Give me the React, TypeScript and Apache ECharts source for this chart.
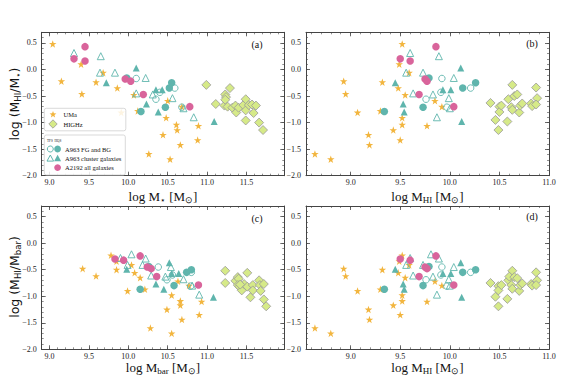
import React, { useEffect, useRef } from 'react';
import * as echarts from 'echarts';

// ---------- tick labels ----------
const xTicksStar = [9.0, 9.5, 10.0, 10.5, 11.0, 11.5];
const xTicksHI = [9.0, 9.5, 10.0, 10.5, 11.0];
const yTicks = [-2.0, -1.5, -1.0, -0.5, 0.0, 0.5];

// ---------- UMa (stars) ----------
const umaMstar = [9.04, 9.15, 9.40, 9.41, 9.59, 9.68, 9.86, 9.91, 10.07, 10.12, 10.26, 10.44, 10.48, 10.50, 10.53, 10.61, 10.62, 10.66, 10.68, 10.89, 10.88];
const umaFstar = [0.48, -0.22, 0.10, -0.46, -0.24, -0.06, -0.35, -0.81, -0.48, -0.78, -1.59, -1.23, -0.91, -0.59, -1.69, -1.04, -1.14, -1.42, -0.70, -1.06, -1.33];
const umaMhi = [9.52, 8.93, 9.49, 8.95, 9.32, 9.59, 9.48, 9.07, 9.55, 9.30, 8.64, 9.18, 9.52, 9.85, 8.80, 9.52, 9.43, 9.19, 9.92, 9.77, 9.50];
const umaMbar = [9.78, 9.42, 9.85, 9.59, 9.85, 10.04, 10.08, 9.99, 10.15, 10.21, 10.28, 10.49, 10.55, 10.63, 10.55, 10.66, 10.66, 10.68, 10.77, 10.93, 10.90];
const umaFbar = [-0.23, -0.48, -0.34, -0.62, -0.50, -0.41, -0.56, -0.90, -0.65, -0.87, -1.60, -1.25, -0.98, -0.72, -1.70, -1.09, -1.17, -1.44, -0.80, -1.10, -1.35];

// ---------- HIGHz (diamonds), read per panel ----------
const hzA = [[10.99, -0.29], [11.11, -0.65], [11.22, -0.68], [11.23, -0.47], [11.24, -0.52], [11.23, -0.57], [11.29, -0.35], [11.26, -0.70], [11.32, -0.72], [11.36, -0.68], [11.37, -0.81], [11.40, -0.72], [11.46, -0.67], [11.49, -0.56], [11.49, -0.77], [11.49, -0.96], [11.53, -0.67], [11.57, -0.66], [11.59, -0.82], [11.62, -0.68], [11.66, -1.00], [11.71, -1.14]];
const hzB = [[10.41, -0.63], [10.46, -0.95], [10.49, -1.14], [10.50, -0.70], [10.50, -0.80], [10.52, -0.68], [10.58, -0.98], [10.59, -0.56], [10.63, -0.29], [10.62, -0.71], [10.63, -0.76], [10.65, -0.50], [10.68, -0.47], [10.70, -0.81], [10.71, -0.68], [10.73, -0.64], [10.82, -0.64], [10.83, -0.69], [10.87, -0.34], [10.88, -0.54], [10.87, -0.66]];
const hzC = [[11.23, -0.52], [11.23, -0.75], [11.36, -0.71], [11.39, -0.64], [11.40, -0.67], [11.39, -0.79], [11.41, -0.82], [11.44, -0.89], [11.47, -0.77], [11.51, -0.56], [11.51, -0.82], [11.55, -1.02], [11.58, -0.79], [11.58, -0.89], [11.66, -0.70], [11.67, -0.79], [11.68, -0.90], [11.72, -0.77], [11.72, -1.06], [11.75, -1.19], [11.42, -0.78]];
const hzD = [[10.41, -0.75], [10.46, -1.01], [10.49, -1.19], [10.49, -0.81], [10.49, -0.89], [10.52, -0.79], [10.58, -1.05], [10.59, -0.70], [10.63, -0.52], [10.60, -0.63], [10.62, -0.79], [10.63, -0.86], [10.65, -0.64], [10.68, -0.66], [10.70, -0.90], [10.71, -0.79], [10.73, -0.76], [10.82, -0.77], [10.83, -0.80], [10.87, -0.55], [10.88, -0.70], [10.87, -0.79]];

// ---------- A963 FG and BG, TFS (open circles) ----------
const fgtMstar = [10.10, 10.35, 10.40, 10.59, 10.68];
const fgtFstar = [-0.17, -0.56, -0.43, -0.35, -0.71];
const fgtMhi = [9.92, 9.76, 9.91, 10.21, 9.97];
const fgtMbar = [10.38, 10.49, 10.56, 10.80, 10.79];
const fgtFbar = [-0.45, -0.69, -0.60, -0.55, -0.81];

// ---------- A963 FG and BG, HQS (filled circles) ----------
const fghMstar = [9.98, 10.16, 10.47, 10.52, 10.55];
const fghFstar = [-0.16, -0.79, -0.71, -0.35, -0.25];
const fghMhi = [9.79, 9.34, 9.73, 10.13, 10.26];
const fghMbar = [10.26, 10.15, 10.58, 10.74, 10.80];
const fghFbar = [-0.44, -0.87, -0.80, -0.55, -0.50];

// ---------- A963 cluster, TFS (open triangles) ----------
const cltMstar = [9.12, 9.31, 9.65, 9.64, 9.83, 10.10, 10.22, 10.31, 10.56, 10.70, 10.83];
const cltFstar = [0.72, 0.31, 0.25, -0.06, -0.06, -0.45, -0.16, -0.47, -0.54, -0.73, -0.90];
const cltMhi = [9.81, 9.60, 9.89, 9.56, 9.73, 9.63, 10.04, 9.83, 9.99, 10.00, 9.87];
const cltMbar = [10.04, 9.90, 10.22, 9.99, 10.18, 10.29, 10.54, 10.47, 10.70, 10.81, 10.90];
const cltFbar = [-0.21, -0.28, -0.29, -0.41, -0.41, -0.61, -0.45, -0.63, -0.68, -0.80, -0.97];

// ---------- A963 cluster, HQS (filled triangles) ----------
const clhMstar = [9.72, 10.10, 10.23, 10.35, 10.38, 10.43, 11.09];
const clhFstar = [-0.25, 0.03, -0.65, -0.38, -0.80, -0.38, -0.98];
const clhMhi = [9.45, 10.11, 9.53, 9.93, 9.54, 10.01, 10.12];
const clhMbar = [9.98, 10.52, 10.35, 10.55, 10.45, 10.64, 11.08];
const clhFbar = [-0.49, -0.37, -0.77, -0.57, -0.87, -0.57, -1.02];

// ---------- A2192 (pink circles) ----------
const a2Mstar = [9.31, 9.45, 9.45, 9.96, 10.03, 10.19, 10.78];
const a2Fstar = [0.20, 0.43, 0.16, -0.18, -0.22, -0.47, -0.70];
const a2Mhi = [9.50, 9.86, 9.60, 9.75, 9.77, 9.69, 10.04];
const a2Mbar = [9.83, 10.15, 9.94, 10.24, 10.29, 10.36, 10.89];
const a2Fbar = [-0.30, -0.24, -0.32, -0.45, -0.48, -0.63, -0.79];

// ---------- styles ----------
const GOLD = '#f2b53e';
const TEAL = '#5fb5ad';
const PINK = '#d9649b';
const HZFILL = '#d6ea88';
const SERIF = 'Liberation Serif';
const AXC = '#444';
const STAR = 'path://M50,0 L61.8,34.5 L97.6,34.5 L68.5,55.9 L79.4,90.5 L50,69.1 L20.6,90.5 L31.5,55.9 L2.4,34.5 L38.2,34.5 Z';

const zip = (xs: number[], ys: number[]) => xs.map((x, i) => [x, ys[i]]);
const fmt = (v: number) => (v < -1e-9 ? '\u2212' : '') + Math.abs(v).toFixed(1);
const minorList = (lo: number, hi: number) => {
  const out: number[] = [];
  for (let k = Math.ceil(lo * 10 - 1e-6); k <= Math.floor(hi * 10 + 1e-6); k++) out.push(k / 10);
  return out;
};

type Grp = { ms: number[]; fs: number[]; mhi: number[]; mb: number[]; fb: number[] };
const panelData = (g: Grp, p: number) => {
  if (p === 0) return zip(g.ms, g.fs);
  if (p === 1) return zip(g.mhi, g.fs);
  if (p === 2) return zip(g.mb, g.fb);
  return zip(g.mhi, g.fb);
};

function buildOption() {
  const rects = [
    { left: 41.7, top: 32.3, width: 242.6, height: 143.4 },
    { left: 306, top: 32.3, width: 243, height: 143.4 },
    { left: 41.7, top: 206, width: 242.6, height: 143.3 },
    { left: 306, top: 206, width: 243, height: 143.3 },
  ];
  const xr = [[8.9, 11.98], [8.55, 11.0], [8.9, 11.98], [8.55, 11.0]];
  const xt = [xTicksStar, xTicksHI, xTicksStar, xTicksHI];
  const yr = [-2.0, 0.7];

  const grid: any[] = [...rects, ...rects].map((r) => ({ ...r, containLabel: false }));
  const xAxis: any[] = [];
  const yAxis: any[] = [];

  for (let p = 0; p < 4; p++) {
    for (const pos of ['bottom', 'top']) {
      xAxis.push({
        type: 'value', gridIndex: p, position: pos, min: xr[p][0], max: xr[p][1],
        axisLine: { show: true, onZero: false, lineStyle: { color: AXC, width: 1 } },
        axisTick: { show: true, inside: true, length: 4, customValues: xt[p], lineStyle: { color: AXC, width: 0.8 } },
        axisLabel: { show: pos === 'bottom', customValues: xt[p], formatter: fmt, fontFamily: SERIF, fontSize: 8, color: '#222', margin: 3 },
        splitLine: { show: false },
      });
    }
    for (const pos of ['left', 'right']) {
      yAxis.push({
        type: 'value', gridIndex: p, position: pos, min: yr[0], max: yr[1],
        axisLine: { show: true, onZero: false, lineStyle: { color: AXC, width: 1 } },
        axisTick: { show: true, inside: true, length: 4, customValues: yTicks, lineStyle: { color: AXC, width: 0.8 } },
        axisLabel: { show: pos === 'left', customValues: yTicks, formatter: fmt, fontFamily: SERIF, fontSize: 8, color: '#222', margin: 5 },
        splitLine: { show: false },
      });
    }
  }
  for (let p = 0; p < 4; p++) {
    for (const pos of ['bottom', 'top']) {
      xAxis.push({
        type: 'value', gridIndex: p + 4, position: pos, min: xr[p][0], max: xr[p][1],
        axisLine: { show: false, onZero: false },
        axisTick: { show: true, inside: true, length: 2, customValues: minorList(xr[p][0], xr[p][1]), lineStyle: { color: AXC, width: 0.6 } },
        axisLabel: { show: false },
        splitLine: { show: false },
      });
    }
    for (const pos of ['left', 'right']) {
      yAxis.push({
        type: 'value', gridIndex: p + 4, position: pos, min: yr[0], max: yr[1],
        axisLine: { show: false, onZero: false },
        axisTick: { show: true, inside: true, length: 2, customValues: minorList(yr[0], yr[1]), lineStyle: { color: AXC, width: 0.6 } },
        axisLabel: { show: false },
        splitLine: { show: false },
      });
    }
  }

  const groups: { name: string; g?: Grp; per?: number[][][]; symbol: string; size: number; style: any }[] = [
    { name: 'UMa', g: { ms: umaMstar, fs: umaFstar, mhi: umaMhi, mb: umaMbar, fb: umaFbar }, symbol: STAR, size: 7.5, style: { color: GOLD } },
    { name: 'HIGHz', per: [hzA, hzB, hzC, hzD], symbol: 'diamond', size: 9, style: { color: HZFILL, borderColor: '#999', borderWidth: 0.8 } },
    { name: 'A963 FG TFS', g: { ms: fgtMstar, fs: fgtFstar, mhi: fgtMhi, mb: fgtMbar, fb: fgtFbar }, symbol: 'circle', size: 6.5, style: { color: 'rgba(255,255,255,0)', borderColor: TEAL, borderWidth: 0.9 } },
    { name: 'A963 FG HQS', g: { ms: fghMstar, fs: fghFstar, mhi: fghMhi, mb: fghMbar, fb: fghFbar }, symbol: 'circle', size: 7.5, style: { color: TEAL } },
    { name: 'A963 cl TFS', g: { ms: cltMstar, fs: cltFstar, mhi: cltMhi, mb: cltMbar, fb: cltFbar }, symbol: 'triangle', size: 7, style: { color: 'rgba(255,255,255,0)', borderColor: TEAL, borderWidth: 0.9 } },
    { name: 'A963 cl HQS', g: { ms: clhMstar, fs: clhFstar, mhi: clhMhi, mb: clhMbar, fb: clhFbar }, symbol: 'triangle', size: 7, style: { color: TEAL } },
    { name: 'A2192', g: { ms: a2Mstar, fs: a2Fstar, mhi: a2Mhi, mb: a2Mbar, fb: a2Fbar }, symbol: 'circle', size: 7.5, style: { color: PINK } },
  ];

  const series: any[] = [];
  for (let p = 0; p < 4; p++) {
    groups.forEach((gr) => {
      series.push({
        type: 'scatter', name: gr.name, xAxisIndex: 2 * p, yAxisIndex: 2 * p,
        data: gr.g ? panelData(gr.g, p) : gr.per![p],
        symbol: gr.symbol, symbolSize: gr.size, itemStyle: { ...gr.style, opacity: 1 },
        clip: true, silent: true,
      });
    });
  }

  // ---- text ----
  const rich = (mainSize: number, subSize: number, family: string) => ({
    n: { fontSize: mainSize, fontFamily: family, lineHeight: mainSize + 4, fill: '#111', verticalAlign: 'middle' },
    s: { fontSize: subSize, fontFamily: family, lineHeight: subSize + 1, fill: '#111', verticalAlign: 'bottom' },
  });
  const label = (x: number, y: number, text: string, family: string, rot = 0, ms = 13, ss = 9) => ({
    type: 'text', x, y, rotation: rot, z: 100,
    style: { text, align: 'center', verticalAlign: 'middle', rich: rich(ms, ss, family), fill: '#111' },
  });

  const graphic: any[] = [
    label(163, 196, '{n|log M}{s|\u22c6}{n| [M}{s|\u2299}{n|]}', SERIF),
    label(427.5, 196, '{n|log M}{s|HI}{n| [M}{s|\u2299}{n|]}', SERIF),
    label(163, 367, '{n|log M}{s|bar}{n| [M}{s|\u2299}{n|]}', SERIF),
    label(427.5, 367, '{n|log M}{s|HI}{n| [M}{s|\u2299}{n|]}', SERIF),
    label(14, 104, '{n|log (M}{s|HI}{n|/M}{s|\u22c6}{n|)}', 'DejaVu Sans', Math.PI / 2, 12.5, 8.5),
    label(14, 277, '{n|log (M}{s|HI}{n|/M}{s|bar}{n|)}', 'DejaVu Sans', Math.PI / 2, 12.5, 8.5),
  ];
  const panelTag = (x: number, y: number, t: string) => ({
    type: 'text', x, y, z: 100, style: { text: t, fontFamily: SERIF, fontSize: 10, fill: '#111', align: 'center', verticalAlign: 'middle' },
  });
  graphic.push(panelTag(257, 44, '(a)'), panelTag(532, 43, '(b)'), panelTag(257, 218, '(c)'), panelTag(532, 216, '(d)'));

  // ---- legend (panel a) ----
  const starPts = (cx: number, cy: number, R: number) => {
    const pts: number[][] = [];
    for (let i = 0; i < 10; i++) {
      const r = i % 2 === 0 ? R : R * 0.42;
      const a = -Math.PI / 2 + (i * Math.PI) / 5;
      pts.push([cx + r * Math.cos(a), cy + r * Math.sin(a)]);
    }
    return pts;
  };
  const triPts = (cx: number, cy: number, r: number) => [[cx, cy - r], [cx + r, cy + r * 0.85], [cx - r, cy + r * 0.85]];
  const legText = (x: number, y: number, t: string, fs = 6.5) => ({
    type: 'text', x, y, z: 101, style: { text: t, fontFamily: SERIF, fontSize: fs, fill: '#111', align: 'left', verticalAlign: 'middle' },
  });
  graphic.push(
    { type: 'rect', z: 100, shape: { x: 44.3, y: 108.3, width: 81.5, height: 22.5, r: 2 }, style: { fill: 'rgba(255,255,255,0.85)', stroke: '#cfcfcf', lineWidth: 0.8 } },
    { type: 'polygon', z: 101, shape: { points: starPts(53, 114.5, 3.6) }, style: { fill: GOLD } },
    legText(63.5, 114.5, 'UMa'),
    { type: 'polygon', z: 101, shape: { points: [[53, 119.8], [57.2, 124], [53, 128.2], [48.8, 124]] }, style: { fill: HZFILL, stroke: '#999', lineWidth: 0.8 } },
    legText(63.5, 124, 'HIGHz'),
    { type: 'rect', z: 100, shape: { x: 44.3, y: 135, width: 81, height: 40, r: 2 }, style: { fill: 'rgba(255,255,255,0.85)', stroke: '#cfcfcf', lineWidth: 0.8 } },
    legText(47, 140.6, 'TFS', 3.4),
    legText(54.6, 140.6, 'HQS', 3.4),
    { type: 'circle', z: 101, shape: { cx: 50.3, cy: 149, r: 3 }, style: { fill: 'none', stroke: TEAL, lineWidth: 1 } },
    { type: 'circle', z: 101, shape: { cx: 57.6, cy: 149, r: 3.4 }, style: { fill: TEAL } },
    legText(65, 149, 'A963 FG and BG'),
    { type: 'polygon', z: 101, shape: { points: triPts(50.3, 158.3, 3.3) }, style: { fill: 'none', stroke: TEAL, lineWidth: 1 } },
    { type: 'polygon', z: 101, shape: { points: triPts(57.6, 158.3, 3.5) }, style: { fill: TEAL } },
    legText(65, 158.3, 'A963 cluster galaxies'),
    { type: 'circle', z: 101, shape: { cx: 57.6, cy: 167.6, r: 3.4 }, style: { fill: PINK } },
    legText(65, 167.6, 'A2192 all galaxies'),
  );

  return { animation: false, backgroundColor: '#fff', grid, xAxis, yAxis, series, graphic };
}

export default function App() {
  const ref = useRef<HTMLDivElement>(null);
  useEffect(() => {
    const chart = echarts.init(ref.current!, undefined, { renderer: 'svg' });
    chart.setOption(buildOption() as any);
    return () => chart.dispose();
  }, []);
  return <div ref={ref} style={{ position: 'fixed', left: 0, top: 0, width: 568, height: 375, background: '#fff' }} />;
}
